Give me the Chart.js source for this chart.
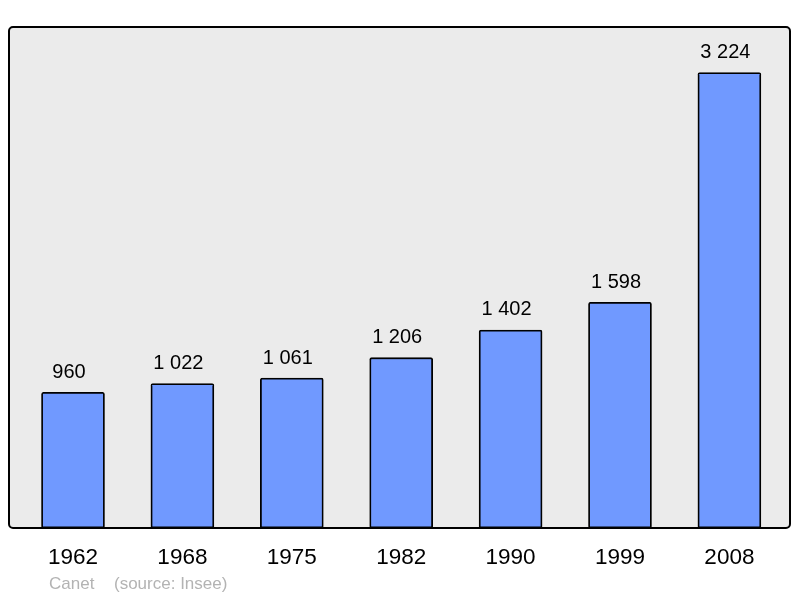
<!DOCTYPE html>
<html><head><meta charset="utf-8">
<script src="https://cdn.jsdelivr.net/npm/chart.js@4/dist/chart.umd.min.js"></script>
<style>html,body{margin:0;padding:0;background:#fff}#wrap{width:800px;height:598px}</style>
</head><body><div id="wrap"><canvas id="c" width="800" height="598"></canvas></div>
<script>
const years = ["1962","1968","1975","1982","1990","1999","2008"];
const population = [960,1022,1061,1206,1402,1598,3224];
const commune = "Canet";
const source = "(source: Insee)";

function fmt(v){return String(v).replace(/\B(?=(\d{3})+(?!\d))/g," ");}

const framePlugin = {
  id:'frame',
  beforeDatasetsDraw(chart){
    const a=chart.chartArea, ctx=chart.ctx;
    ctx.save();
    ctx.beginPath();
    ctx.roundRect(a.left,a.top,a.right-a.left,a.bottom-a.top,4);
    ctx.fillStyle='#ebebeb';ctx.fill();
    ctx.restore();
  },
  afterDatasetsDraw(chart){
    const a=chart.chartArea, ctx=chart.ctx;
    ctx.save();
    ctx.beginPath();
    ctx.roundRect(a.left,a.top,a.right-a.left,a.bottom-a.top,4);
    ctx.lineWidth=2;ctx.strokeStyle='#000';ctx.stroke();
    const meta=chart.getDatasetMeta(0);
    ctx.fillStyle='#000';ctx.font='20px "Liberation Sans", Arial, sans-serif';
    ctx.textAlign='center';ctx.textBaseline='middle';
    meta.data.forEach((el,i)=>{ctx.fillText(fmt(population[i]),el.x-4,el.y-20);});
    ctx.fillStyle='#b3b3b3';ctx.font='17px "Liberation Sans", Arial, sans-serif';
    ctx.textAlign='left';
    ctx.fillText(commune,49,584);
    ctx.fillText(source,114,584);
    ctx.restore();
  }
};

new Chart(document.getElementById('c'),{
  type:'bar',
  data:{datasets:[{
    data:population.map((v,i)=>({x:i,y:v})),
    backgroundColor:'#7099ff',borderColor:'#000',borderWidth:1.8,
    borderSkipped:false,borderRadius:2,barThickness:63
  }]},
  options:{
    responsive:false,animation:false,
    layout:{padding:{left:9,right:10,top:27,bottom:11}},
    plugins:{legend:{display:false},tooltip:{enabled:false}},
    scales:{
      x:{type:'linear',min:-0.585,max:6.554,offset:false,
        grid:{display:false,drawTicks:false,offset:false},border:{display:false},
        afterBuildTicks(ax){ax.ticks=years.map((y,i)=>({value:i}));},
        ticks:{padding:16,color:'#000',font:{family:'"Liberation Sans", Arial, sans-serif',size:22.5},
          callback:(v)=>years[v],maxRotation:0,autoSkip:false}},
      y:{display:false,min:0,max:3547}
    }
  },
  plugins:[framePlugin]
});
</script></body></html>
